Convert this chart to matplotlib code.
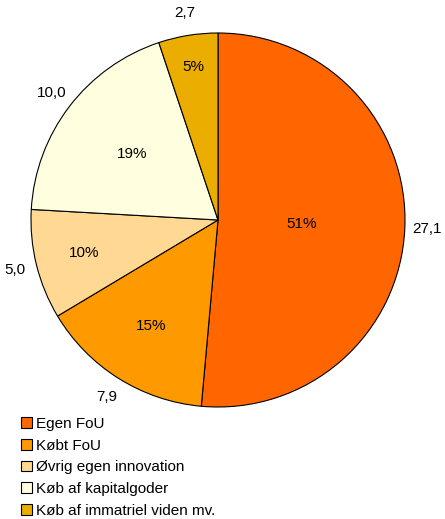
import numpy as np
import matplotlib
matplotlib.use("Agg")
import matplotlib.pyplot as plt
from matplotlib.patches import Patch

plt.rcParams['font.family'] = ['Liberation Sans', 'DejaVu Sans']

# data
kategorier = ['Egen FoU', 'Købt FoU', 'Øvrig egen innovation',
              'Køb af kapitalgoder', 'Køb af immatriel viden mv.']
vaerdier = [27.1, 7.9, 5.0, 10.0, 2.7]
vaerdi_tekst = ['27,1', '7,9', '5,0', '10,0', '2,7']
pct_tekst = ['51%', '15%', '10%', '19%', '5%']
farver = ['#FF6600', '#FF9900', '#FFD993', '#FFFFE0', '#EBAE00']

# placering af procent-etiketter (andel af radius), som i Excel
pct_afstand = [0.45, 0.67, 0.74, 0.58, 0.83]

fig = plt.figure(figsize=(4.45, 5.19), dpi=100)
W, H = 445, 519
cx, cy, R = 218, 220, 187
ax = fig.add_axes([(cx - R) / W, (H - cy - R) / H, 2 * R / W, 2 * R / H])

wedges, tekster = ax.pie(vaerdier, colors=farver, startangle=90, counterclock=False,
                         labels=vaerdi_tekst, labeldistance=1.12,
                         wedgeprops=dict(edgecolor='black', linewidth=0.8),
                         textprops=dict(fontsize=11))
for t in tekster:
    t.set_ha('center')
    t.set_va('center')

for w, p, d in zip(wedges, pct_tekst, pct_afstand):
    vinkel = np.deg2rad((w.theta1 + w.theta2) / 2)
    ax.text(d * np.cos(vinkel), d * np.sin(vinkel), p,
            ha='center', va='center', fontsize=11)

ax.set_xlim(-1, 1)
ax.set_ylim(-1, 1)
ax.set_aspect('equal')
ax.axis('off')

handles = [Patch(facecolor=f, edgecolor='black', linewidth=0.8) for f in farver]
fig.legend(handles, kategorier, loc='upper left', bbox_to_anchor=(21 / W, 1 - 417 / H),
           frameon=False, fontsize=11, handlelength=0.7, handleheight=0.7,
           handletextpad=0.3, labelspacing=0.5, borderpad=0, borderaxespad=0)

fig.savefig('out.png', dpi=100)
